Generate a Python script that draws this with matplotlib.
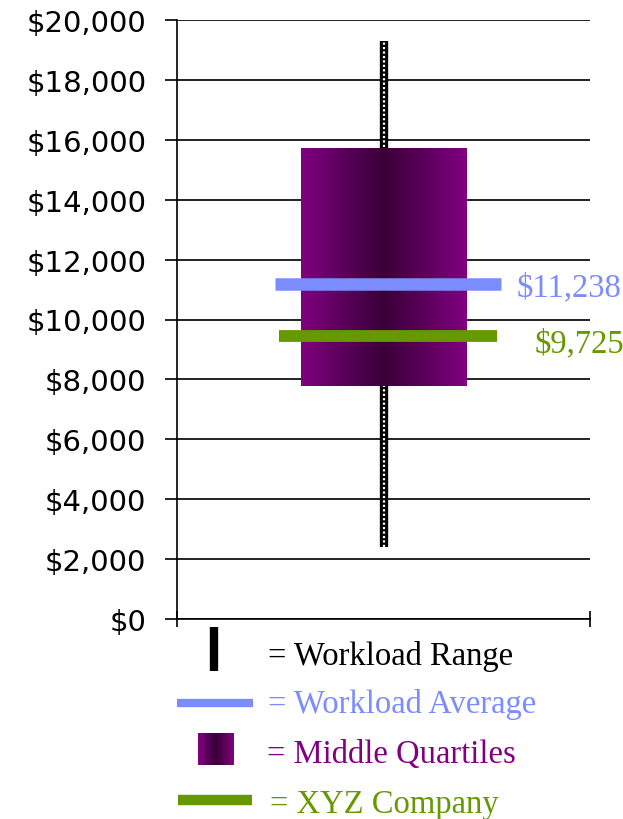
import numpy as np
import matplotlib
matplotlib.use("Agg")
import matplotlib.pyplot as plt
from matplotlib.colors import LinearSegmentedColormap

# ---- data ----
range_low = 2400
range_high = 19300
quartile_low = 7780
quartile_high = 15700
average_value = 11190
xyz_value = 9450
average_label = "$11,238"
xyz_label = "$9,725"
y_ticks = list(range(0, 20001, 2000))
y_tick_labels = ["$0", "$2,000", "$4,000", "$6,000", "$8,000", "$10,000",
                 "$12,000", "$14,000", "$16,000", "$18,000", "$20,000"]
legend_labels = ["= Workload Range", "= Workload Average", "= Middle Quartiles", "= XYZ Company"]

W, H = 623, 820
fig = plt.figure(figsize=(W / 100, H / 100), dpi=100)
fig.patch.set_facecolor("white")

ax = fig.add_axes([177 / W, (H - 620) / H, (590 - 177) / W, (620 - 21) / H])
ax.set_xlim(0, 1)
ax.set_ylim(0, 20000)

purple = "#800080"
dark = "#3a0038"
blue = "#7b8cff"
green = "#669900"
cmap = LinearSegmentedColormap.from_list("pq", [dark, purple])

# grid
ax.set_yticks(y_ticks)
ax.set_yticklabels(y_tick_labels, fontsize=21, family="DejaVu Sans")
ax.yaxis.grid(True, color="#222222", linewidth=1.4, zorder=0)
ax.set_axisbelow(True)
ax.set_xticks([0, 1])
ax.set_xticklabels(["", ""])
ax.tick_params(axis="y", direction="out", length=9, width=1.2, pad=13)
ax.tick_params(axis="x", direction="inout", length=12, width=1.2)
for s in ["top", "right"]:
    ax.spines[s].set_visible(False)
ax.spines["left"].set_linewidth(1.2)
ax.spines["bottom"].set_linewidth(1.2)

# whisker
cx = 0.5
ax.vlines(cx, range_low, range_high, color="black", linewidth=6, zorder=2)
ax.vlines(cx, range_low, range_high, color="white", linewidth=1.6,
          linestyles=(0, (1, 1)), zorder=2.1)

# box with gradient
bw = 0.4
grad = np.abs(np.linspace(-1, 1, 256)).reshape(1, -1)
ax.imshow(grad, cmap=cmap, aspect="auto", interpolation="bilinear",
          extent=(cx - bw / 2, cx + bw / 2, quartile_low, quartile_high), zorder=3)
ax.set_xlim(0, 1)
ax.set_ylim(0, 20000)

# average and company lines
ax.hlines(average_value, 0.237, 0.785, color=blue, linewidth=9, zorder=4)
ax.hlines(xyz_value, 0.247, 0.775, color=green, linewidth=8.5, zorder=4)
ax.annotate(average_label, (0.823, average_value), xytext=(0, -8), textcoords="offset points",
            color=blue, fontsize=23.5, family="Liberation Serif", va="baseline", ha="left",
            annotation_clip=False)
ax.annotate(xyz_label, (0.866, xyz_value), xytext=(0, -11), textcoords="offset points",
            color=green, fontsize=23.5, family="Liberation Serif", va="baseline", ha="left",
            annotation_clip=False)

# legend overlay (pixel coords)
lax = fig.add_axes([0, 0, 1, 1])
lax.set_xlim(0, W)
lax.set_ylim(H, 0)
lax.axis("off")
lax.patch.set_visible(False)

lax.vlines(213.5, 628, 672, color="black", linewidth=6)
lax.hlines(704, 177, 253, color=blue, linewidth=6)
lax.imshow(np.abs(np.linspace(-1, 1, 64)).reshape(1, -1), cmap=cmap, aspect="auto",
           interpolation="bilinear", extent=(198, 234, 766, 734))
lax.hlines(801, 178, 252, color=green, linewidth=7.5)
lax.set_xlim(0, W)
lax.set_ylim(H, 0)

leg_colors = ["black", blue, purple, green]
leg_x = [268, 268, 267, 270]
leg_y = [665, 713, 763, 813]
for lab, c, x, y in zip(legend_labels, leg_colors, leg_x, leg_y):
    lax.text(x, y, lab, color=c, fontsize=23.5, family="Liberation Serif",
             va="baseline", ha="left")

fig.savefig("out.png", dpi=100, facecolor="white")
